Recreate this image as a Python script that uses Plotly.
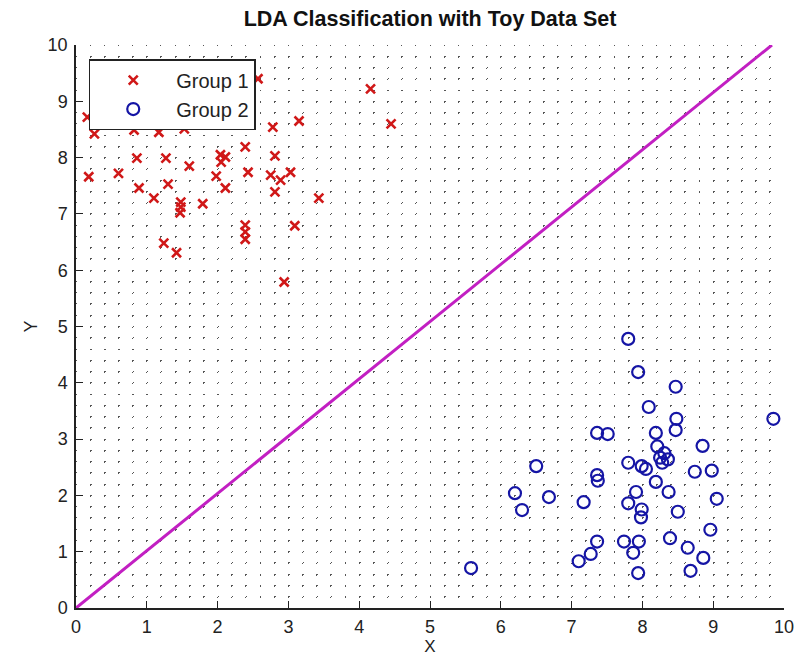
import plotly.graph_objects as go

# ----------------------------------------------------------------------
# Data
# ----------------------------------------------------------------------

group1_x = [2.57, 0.16, 0.26, 0.82, 1.17, 1.53, 2.78, 3.15, 2.39, 0.86,
            1.27, 2.04, 2.11, 2.05, 1.60, 2.81, 0.18, 0.60, 1.98, 2.43,
            2.75, 2.89, 3.03, 0.89, 1.30, 2.11, 2.81, 3.43, 1.10, 1.48,
            1.48, 1.47, 1.79, 2.39, 2.39, 2.39, 3.09, 2.94, 4.16, 4.45,
            1.24, 1.42]
group1_y = [9.40, 8.72, 8.42, 8.49, 8.45, 8.51, 8.54, 8.65, 8.19, 7.99,
            7.99, 8.05, 8.01, 7.92, 7.85, 8.03, 7.66, 7.72, 7.67, 7.74,
            7.69, 7.60, 7.74, 7.46, 7.53, 7.46, 7.39, 7.28, 7.28, 7.21,
            7.12, 7.02, 7.18, 6.80, 6.68, 6.55, 6.79, 5.79, 9.22, 8.60,
            6.48, 6.31]

group2_x = [7.80, 7.94, 8.47, 8.09, 8.48, 8.47, 9.85, 7.36, 7.51, 8.19,
            8.21, 8.31, 8.25, 8.36, 8.28, 8.85, 7.80, 7.99, 8.05, 8.74,
            8.98, 6.50, 7.36, 7.37, 8.19, 7.91, 8.37, 6.20, 6.68, 7.17,
            9.05, 6.30, 7.80, 7.99, 7.98, 8.50, 8.96, 7.36, 7.74, 7.95,
            8.39, 8.64, 7.27, 7.10, 7.87, 8.86, 7.94, 8.68, 5.58]
group2_y = [4.78, 4.19, 3.93, 3.57, 3.36, 3.16, 3.36, 3.11, 3.09, 3.11,
            2.87, 2.75, 2.67, 2.64, 2.58, 2.88, 2.58, 2.52, 2.47, 2.42,
            2.44, 2.52, 2.36, 2.26, 2.24, 2.06, 2.06, 2.04, 1.97, 1.88,
            1.94, 1.74, 1.86, 1.75, 1.61, 1.71, 1.39, 1.18, 1.18, 1.18,
            1.24, 1.07, 0.96, 0.83, 0.98, 0.89, 0.62, 0.66, 0.71]

# LDA decision boundary end points
boundary_x = [0.0, 9.83]
boundary_y = [0.0, 10.0]

tick_vals = list(range(0, 11))

# ----------------------------------------------------------------------
# Style
# ----------------------------------------------------------------------

FONT = "Liberation Sans, Arial, sans-serif"
# the html page puts the figure 8px in from the top-left corner;
# keep the page no taller than the window
W, H = 795, 648
M_L, M_R, M_T, M_B = 68, 19, 37, 48
plot_w = W - M_L - M_R
plot_h = H - M_T - M_B
# dotted lattice: one dot every 0.2 units along each grid line
step_x = plot_w / 50
step_y = plot_h / 50
dash_v = f"1.4px,{step_y - 1.4:.3f}px"
dash_h = f"1.4px,{step_x - 1.4:.3f}px"
GRID_COL = "#555555"

fig = go.Figure()

fig.add_trace(go.Scatter(
    x=boundary_x, y=boundary_y,
    mode="lines",
    line=dict(color="#c21fc2", width=3),
    showlegend=False,
    hoverinfo="skip",
))

fig.add_trace(go.Scatter(
    x=group1_x, y=group1_y,
    mode="markers",
    name="Group 1",
    marker=dict(symbol="x-thin-open", size=9, color="#d01818",
                line=dict(color="#d01818", width=2.6)),
))

fig.add_trace(go.Scatter(
    x=group2_x, y=group2_y,
    mode="markers",
    name="Group 2",
    marker=dict(symbol="circle-open", size=12, color="#1515a5",
                line=dict(color="#1515a5", width=2.2)),
))

axis_common = dict(
    range=[0, 10],
    tickvals=tick_vals,
    ticks="inside",
    ticklen=7,
    tickwidth=1,
    tickcolor="#222222",
    showline=True,
    linecolor="#222222",
    linewidth=1.5,
    zeroline=False,
    automargin=False,
    tickfont=dict(family=FONT, size=18, color="#222222"),
    showgrid=True,
    gridcolor=GRID_COL,
    gridwidth=1,
)

fig.update_xaxes(
    **axis_common,
    griddash=dash_v,
    minor=dict(dtick=0.2, showgrid=True, gridcolor=GRID_COL, gridwidth=1,
               griddash=dash_v, ticks=""),
    ticklabelstandoff=2,
    title=dict(text="X", font=dict(family=FONT, size=17, color="#222222"),
               standoff=20),
)
fig.update_yaxes(
    **axis_common,
    griddash=dash_h,
    minor=dict(dtick=0.2, showgrid=True, gridcolor=GRID_COL, gridwidth=1,
               griddash=dash_h, ticks=""),
    ticklabelstandoff=3,
    title=dict(text="Y", font=dict(family=FONT, size=18, color="#222222"),
               standoff=5),
)

fig.update_layout(
    width=W, height=H,
    margin=dict(l=M_L, r=M_R, t=M_T, b=M_B),
    paper_bgcolor="#ffffff",
    plot_bgcolor="#ffffff",
    title=dict(
        text="<b>LDA Classification with Toy Data Set</b>",
        font=dict(family=FONT, size=21.5, color="#111111"),
        x=(M_L + plot_w / 2) / W, xanchor="center",
        y=1 - 10 / H, yanchor="middle",
    ),
    legend=dict(
        x=0.018, y=0.975, xanchor="left", yanchor="top",
        bgcolor="#ffffff",
        bordercolor="#222222",
        borderwidth=1.5,
        font=dict(family=FONT, size=20, color="#222222"),
        itemwidth=76,
    ),
)

fig.write_html("out.html")
